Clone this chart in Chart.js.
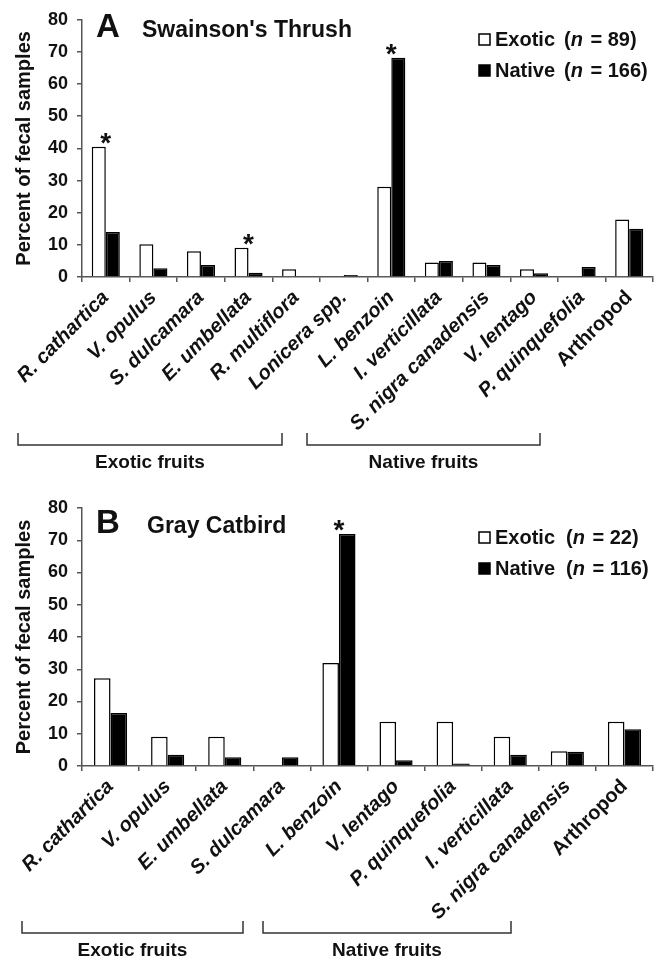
<!DOCTYPE html>
<html>
<head>
<meta charset="utf-8">
<script src="https://cdn.jsdelivr.net/npm/chart.js@4/dist/chart.umd.min.js"></script>
<style>
  html, body { margin: 0; padding: 0; background: #fff; }
  #wrapA { position: absolute; left: 0; top: 0; }
  #wrapB { position: absolute; left: 0; top: 480px; }
</style>
</head>
<body>
<div id="wrapA"><canvas id="chartA" width="662" height="480"></canvas></div>
<div id="wrapB"><canvas id="chartB" width="662" height="481"></canvas></div>
<script>
// Panel A - Swainson's Thrush
const labelsA = ['R. cathartica', 'V. opulus', 'S. dulcamara', 'E. umbellata', 'R. multiflora', 'Lonicera spp.',
  'L. benzoin', 'I. verticillata', 'S. nigra canadensis', 'V. lentago', 'P. quinquefolia', 'Arthropod'];
const exoticA = [40.5, 10.2, 8.0, 9.1, 2.4, 0, 28.1, 4.5, 4.5, 2.4, 0, 17.9];
const nativeA = [14.0, 2.7, 3.7, 1.3, 0, 0.6, 68.2, 5.0, 3.7, 1.2, 3.1, 15.0];
const starsA = ['R. cathartica', 'E. umbellata', 'L. benzoin'];

// Panel B - Gray Catbird
const labelsB = ['R. cathartica', 'V. opulus', 'E. umbellata', 'S. dulcamara', 'L. benzoin', 'V. lentago',
  'P. quinquefolia', 'I. verticillata', 'S. nigra canadensis', 'Arthropod'];
const exoticB = [27.2, 9.1, 9.1, 0, 31.9, 13.7, 13.7, 9.1, 4.6, 13.7];
const nativeB = [16.4, 3.5, 2.7, 2.7, 71.9, 1.8, 0.8, 3.5, 4.4, 11.4];
const starsB = ['L. benzoin'];

const seriesNames = ['Exotic', 'Native'];
const sampleSizesA = [89, 166];
const sampleSizesB = [22, 116];
const groupNames = ['Exotic fruits', 'Native fruits'];

const FONT = '"Liberation Sans", Arial, sans-serif';
const AXIS = '#555';
const TXT = '#111';

// draws panel letter, title, legend, asterisks and the bracket groups
const decor = {
  id: 'decor',
  afterDraw(chart, args, o) {
    const c = chart.ctx;
    const xs = chart.scales.x, ys = chart.scales.y;
    c.save();
    c.fillStyle = TXT;
    c.textBaseline = 'alphabetic';
    c.textAlign = 'left';
    c.font = 'bold 33px ' + FONT;
    c.fillText(o.letter, 96, o.titleY);
    c.font = 'bold 23px ' + FONT;
    c.fillText(o.title, o.titleX, o.titleY);

    // legend
    chart.data.datasets.forEach((ds, i) => {
      const cy = o.legendY[i];
      c.fillStyle = ds.backgroundColor;
      c.fillRect(479, cy - 6, 11, 11);
      c.strokeStyle = '#000';
      c.lineWidth = 1.5;
      c.strokeRect(479, cy - 6, 11, 11);
      c.fillStyle = TXT;
      c.textBaseline = 'middle';
      c.font = 'bold 20px ' + FONT;
      c.fillText(ds.label, 495, cy);
      let x = o.parenX;
      c.fillText('(', x, cy); x += c.measureText('(').width;
      c.font = 'bold italic 20px ' + FONT;
      c.fillText('n', x, cy); x += c.measureText('n').width + 2;
      c.font = 'bold 20px ' + FONT;
      c.fillText(' = ' + o.sizes[i] + ')', x, cy);
    });

    // significance stars
    c.textAlign = 'center';
    c.textBaseline = 'alphabetic';
    c.font = 'bold 28px ' + FONT;
    o.stars.forEach(name => {
      const i = chart.data.labels.indexOf(name);
      const top = Math.max(chart.data.datasets[0].data[i], chart.data.datasets[1].data[i]);
      c.fillText('*', xs.getPixelForValue(i), ys.getPixelForValue(top) + 5);
    });

    // bracket groups under the labels
    c.strokeStyle = '#333';
    c.lineWidth = 1.5;
    o.groups.forEach((g, k) => {
      c.beginPath();
      c.moveTo(g[0], o.bracketY - 12);
      c.lineTo(g[0], o.bracketY);
      c.lineTo(g[1], o.bracketY);
      c.lineTo(g[1], o.bracketY - 12);
      c.stroke();
      c.font = 'bold 19px ' + FONT;
      c.textBaseline = 'middle';
      c.fillText(groupNames[k], (g[0] + g[1]) / 2, o.bracketY + 18);
    });
    c.restore();
  }
};

function makeChart(id, labels, exotic, native, catPct, top, xHeight, deco) {
  return new Chart(document.getElementById(id), {
    type: 'bar',
    data: {
      labels: labels,
      datasets: [
        { label: seriesNames[0], data: exotic, backgroundColor: '#ffffff', borderColor: '#000', borderWidth: 1.5,
          categoryPercentage: catPct, barPercentage: 1 },
        { label: seriesNames[1], data: native, backgroundColor: '#000000', borderColor: '#000', borderWidth: 1.5,
          categoryPercentage: catPct, barPercentage: 1 }
      ]
    },
    options: {
      responsive: false,
      animation: false,
      layout: { padding: { left: 8, top: top, right: 9, bottom: 0 } },
      plugins: { legend: { display: false }, tooltip: { enabled: false }, decor: deco },
      scales: {
        x: {
          afterFit: s => { s.height = xHeight; },
          border: { color: AXIS, width: 1.5 },
          grid: { drawOnChartArea: false, drawTicks: true, tickLength: 5, color: AXIS, lineWidth: 1.5 },
          ticks: {
            autoSkip: false, minRotation: 45, maxRotation: 45, padding: 4, color: TXT,
            font: ctx => ({ family: FONT, size: 20, weight: 'bold',
              style: (ctx.tick && ctx.tick.label === 'Arthropod') ? 'normal' : 'italic' })
          }
        },
        y: {
          min: 0, max: 80,
          afterFit: s => { s.width = 74; },
          border: { color: AXIS, width: 1.5 },
          grid: { drawOnChartArea: false, drawTicks: true, tickLength: 5, color: AXIS, lineWidth: 1.5 },
          ticks: { stepSize: 10, padding: 9, color: TXT, font: { family: FONT, size: 18, weight: 'bold' } },
          title: { display: true, text: 'Percent of fecal samples', color: TXT,
            font: { family: FONT, size: 20, weight: 'bold' } }
        }
      }
    },
    plugins: [decor]
  });
}

makeChart('chartA', labelsA, exoticA, nativeA, 0.59, 17, 203, {
  letter: 'A', title: "Swainson's Thrush", titleX: 142, titleY: 37,
  legendY: [40, 71], parenX: 564, sizes: sampleSizesA, stars: starsA,
  groups: [[18, 282], [307, 540]], bracketY: 445
});

makeChart('chartB', labelsB, exoticB, nativeB, 0.58, 28, 195, {
  letter: 'B', title: 'Gray Catbird', titleX: 147, titleY: 53,
  legendY: [58, 89], parenX: 566, sizes: sampleSizesB, stars: starsB,
  groups: [[22, 243], [263, 511]], bracketY: 453
});
</script>
</body>
</html>
